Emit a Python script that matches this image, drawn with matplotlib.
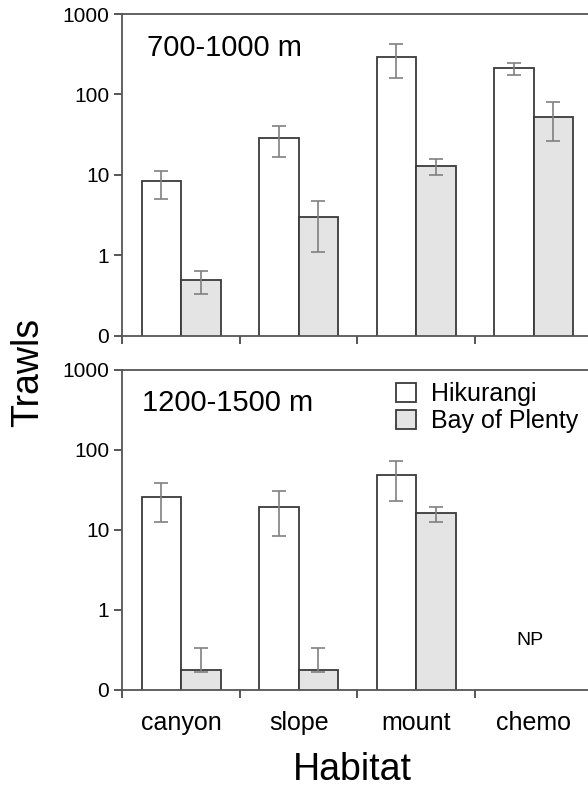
import numpy as np
import matplotlib
matplotlib.use('Agg')
import matplotlib.pyplot as plt
from matplotlib.patches import Patch
from matplotlib.ticker import FixedLocator, NullLocator

plt.rcParams['font.family'] = ['Liberation Sans', 'DejaVu Sans']

habitats = ['canyon', 'slope', 'mount', 'chemo']
series = ['Hikurangi', 'Bay of Plenty']
ytick_vals = [0.1, 1, 10, 100, 1000]
ytick_labels = ['0', '1', '10', '100', '1000']

# 700-1000 m  (mean, lower, upper of error bar)
hik_shallow = [8.3, 28.7, 296, 211]
hik_shallow_lo = [5.1, 16.9, 162, 174]
hik_shallow_hi = [11.3, 40.2, 430, 246]
bop_shallow = [0.49, 3.0, 13.0, 53]
bop_shallow_lo = [0.33, 1.12, 10.0, 26.1]
bop_shallow_hi = [0.65, 4.8, 16.0, 81.8]

# 1200-1500 m  (chemo not present)
hik_deep = [25.9, 19.5, 49, np.nan]
hik_deep_lo = [12.7, 8.5, 22.8, np.nan]
hik_deep_hi = [38.4, 31, 73.5, np.nan]
bop_deep = [0.168, 0.168, 16.3, np.nan]
bop_deep_lo = [0.168, 0.168, 12.7, np.nan]
bop_deep_hi = [0.33, 0.33, 19.5, np.nan]

edge = '#3a3a3a'
errc = '#808080'
fills = ['white', '#e4e4e4']
W = 0.336


def draw_panel(ax, vals, los, his, label, lx, ly):
    x = np.arange(len(habitats))
    for k, (v, lo, hi) in enumerate(zip(vals, los, his)):
        v = np.asarray(v, float)
        lo = np.asarray(lo, float)
        hi = np.asarray(hi, float)
        xs = x + (k - 0.5) * W
        ax.bar(xs, v, width=W, bottom=0.01, color=fills[k], edgecolor=edge,
               linewidth=1.3, zorder=2)
        yerr = np.vstack([v - lo, hi - v])
        ax.errorbar(xs, v, yerr=yerr, fmt='none', ecolor=errc, elinewidth=1.2,
                    capsize=5, capthick=1.2, zorder=3)
    ax.set_yscale('log')
    ax.set_ylim(0.1, 1000)
    ax.set_xlim(-0.5, 3.5)
    ax.yaxis.set_major_locator(FixedLocator(ytick_vals))
    ax.yaxis.set_minor_locator(NullLocator())
    ax.set_yticklabels(ytick_labels, fontsize=15)
    ax.xaxis.set_major_locator(FixedLocator(x))
    ax.xaxis.set_minor_locator(FixedLocator(np.arange(-0.5, 4, 1.0)))
    ax.tick_params(axis='x', which='major', length=0)
    ax.tick_params(axis='x', which='minor', length=6, width=1.2, color=edge)
    ax.tick_params(axis='y', length=6, width=1.2, color=edge)
    for s in ax.spines.values():
        s.set_color('#555555')
        s.set_linewidth(1.3)
    ax.text(lx, ly, label, transform=ax.transAxes, fontsize=21,
            va='center', ha='left')


fig = plt.figure(figsize=(5.88, 7.87), dpi=100)
ax1 = fig.add_axes([0.2083, 0.5731, 0.7993, 0.4091])
ax2 = fig.add_axes([0.2083, 0.1233, 0.7993, 0.4066])

draw_panel(ax1, [hik_shallow, bop_shallow], [hik_shallow_lo, bop_shallow_lo],
           [hik_shallow_hi, bop_shallow_hi], '700-1000 m', 0.052, 0.893)
draw_panel(ax2, [hik_deep, bop_deep], [hik_deep_lo, bop_deep_lo],
           [hik_deep_hi, bop_deep_hi], '1200-1500 m', 0.041, 0.898)

ax1.set_xticklabels([])
ax2.set_xticklabels(habitats, fontsize=18)
ax2.tick_params(axis='x', which='major', pad=15)
ax2.text(2.97, 0.42, 'NP', fontsize=14, ha='center', va='center')

handles = [Patch(facecolor=fills[i], edgecolor=edge, linewidth=1.3) for i in range(2)]
ax2.legend(handles, series, loc='upper left', bbox_to_anchor=(0.555, 1.0),
           frameon=False, fontsize=18, handlelength=0.8, handleheight=0.8,
           handletextpad=0.6, labelspacing=0.1, borderaxespad=0.1)

fig.text(0.6, 0.022, 'Habitat', fontsize=27, ha='center', va='center')
fig.text(0.048, 0.527, 'Trawls', fontsize=27, rotation=90, ha='center', va='center')

fig.savefig('out.png', dpi=100)
